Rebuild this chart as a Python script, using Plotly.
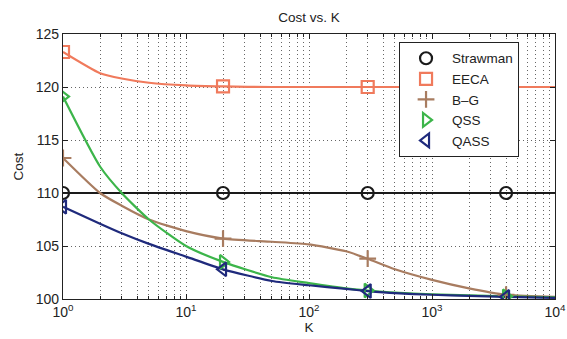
import plotly.graph_objects as go

K = [1, 2, 3, 5, 10, 20, 50, 100, 200, 300, 500, 1000, 2000, 4000, 10000]
strawman = [110, 110, 110, 110, 110, 110, 110, 110, 110, 110, 110, 110, 110, 110, 110]
eeca = [123.3, 121.3, 120.8, 120.4, 120.15, 120.05, 120.0, 120.0, 120.0, 120.0, 120.0, 120.0, 120.0, 120.0, 120.0]
bg = [113.3, 110.0, 108.8, 107.5, 106.4, 105.7, 105.4, 105.15, 104.5, 103.8, 102.8, 101.8, 101.0, 100.4, 100.2]
qss = [119.1, 112.5, 110.0, 107.5, 105.0, 103.5, 102.05, 101.5, 101.0, 100.8, 100.6, 100.45, 100.35, 100.25, 100.15]
qass = [108.7, 107.1, 106.2, 105.2, 104.0, 102.8, 101.7, 101.3, 100.95, 100.75, 100.55, 100.4, 100.3, 100.2, 100.1]
marker_idx = [0, 5, 9, 13]

series = [
    ("Strawman", strawman, "#1a1a1a", "circle-open"),
    ("EECA", eeca, "#f07a5c", "square-open"),
    ("B\u2013G", bg, "#a87c60", "cross-thin-open"),
    ("QSS", qss, "#3cb54a", "triangle-right-open"),
    ("QASS", qass, "#1f2a7c", "triangle-left-open"),
]

x_tickvals = [1, 10, 100, 1000, 10000]
x_ticktext = ["10<sup>0</sup>", "10<sup>1</sup>", "10<sup>2</sup>", "10<sup>3</sup>", "10<sup>4</sup>"]
y_tickvals = [100, 105, 110, 115, 120, 125]

GRID = dict(showgrid=True, gridcolor="#666", griddash="1px,3px", gridwidth=1)

fig = go.Figure()
for name, vals, color, sym in series:
    fig.add_trace(go.Scatter(
        x=K, y=vals, mode="lines", line=dict(color=color, width=2.2, shape="spline", smoothing=0.6),
        showlegend=False, hoverinfo="skip"))
for name, vals, color, sym in series:
    fig.add_trace(go.Scatter(
        x=[K[i] for i in marker_idx], y=[vals[i] for i in marker_idx], mode="markers", name=name,
        marker=dict(symbol=sym, size=12, color=color, line=dict(color=color, width=2.2))))

fig.update_layout(
    width=567, height=339,
    margin=dict(l=63, r=12, t=34, b=40),
    paper_bgcolor="white", plot_bgcolor="white",
    font=dict(family="Liberation Sans, Arial, sans-serif", size=13, color="#222"),
    title=dict(text="Cost vs. K", x=0.545, xanchor="center", y=0.95, yanchor="middle",
               font=dict(size=13.5, color="#222")),
    showlegend=True,
    legend=dict(x=0.683, y=0.97, xanchor="left", yanchor="top", bgcolor="white",
                bordercolor="#222", borderwidth=1, font=dict(size=13.5), itemsizing="trace",
                itemwidth=42, tracegroupgap=0),
)
fig.update_xaxes(
    type="log", range=[0, 4], tickvals=x_tickvals, ticktext=x_ticktext, automargin=False,
    showline=True, linecolor="#222", linewidth=1.2, mirror="ticks",
    ticks="inside", ticklen=5, tickcolor="#222",
    minor=dict(dtick="D1", ticks="inside", ticklen=3, tickcolor="#222", **GRID),
    tickfont=dict(size=14), zeroline=False,
    title=dict(text="K", font=dict(size=13.5), standoff=2),
    **GRID,
)
fig.update_yaxes(
    range=[100, 125], tickvals=y_tickvals, automargin=False,
    showline=True, linecolor="#222", linewidth=1.2, mirror="ticks",
    ticks="inside", ticklen=5, tickcolor="#222",
    tickfont=dict(size=14), zeroline=False,
    title=dict(text="Cost", font=dict(size=13.5), standoff=9),
    **GRID,
)
fig.write_html("out.html", config={"displayModeBar": False},
               post_script="document.body.style.margin='0';document.body.style.overflow='hidden';")
